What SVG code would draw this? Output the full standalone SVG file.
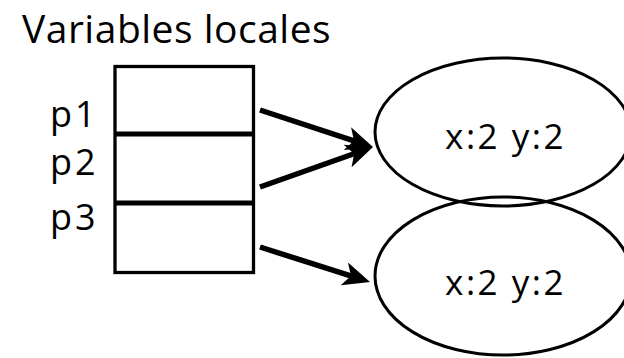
<svg xmlns="http://www.w3.org/2000/svg" width="624" height="358" viewBox="0 0 624 358">
  <style>
    text { font-family: "Open Sans", "Lato", "DejaVu Sans", sans-serif; fill: #000; }
    .title { font-size: 39px; letter-spacing: 0.5px; }
    .lbl { font-size: 36px; letter-spacing: 3px; }
    .val { font-size: 35px; letter-spacing: 2.5px; text-anchor: middle; }
    .frame { fill: #fff; stroke: #000; stroke-width: 3.3; }
    .divider { stroke: #000; stroke-width: 5; }
    .obj { fill: none; stroke: #000; stroke-width: 3; }
    .ref { stroke: #000; stroke-width: 5.5; fill: none; marker-end: url(#head); }
  </style>
  <defs>
    <marker id="head" markerUnits="userSpaceOnUse" viewBox="0 0 27 24" refX="15" refY="12" markerWidth="27" markerHeight="24" orient="auto">
      <path d="M0,0 L27,12 L0,24 L7,12 z" fill="#000"/>
    </marker>
  </defs>

  <text class="title" x="22" y="43">Variables locales</text>

  <!-- stack frame with three slots -->
  <g id="frame">
    <rect class="frame" x="115" y="66.5" width="138.5" height="206"/>
    <line class="divider" x1="115" y1="134" x2="253.5" y2="134"/>
    <line class="divider" x1="115" y1="203" x2="253.5" y2="203"/>
    <text class="lbl" x="50" y="127">p1</text>
    <text class="lbl" x="50" y="175">p2</text>
    <text class="lbl" x="50" y="230">p3</text>
  </g>

  <g id="point1">
    <ellipse class="obj" cx="503" cy="132" rx="128" ry="74"/>
    <text class="val" x="505.5" y="149">x:2 y:2</text>
  </g>

  <g id="point2">
    <ellipse class="obj" cx="503" cy="276" rx="128" ry="79"/>
    <text class="val" x="505.5" y="295">x:2 y:2</text>
  </g>

  <!-- references: line ends 12px short of the tip, the marker supplies the rest -->
  <g id="connectors">
    <line class="ref" x1="260" y1="110" x2="361.6" y2="143.3"/>
    <line class="ref" x1="260" y1="187" x2="361.7" y2="151"/>
    <line class="ref" x1="260" y1="247" x2="358.6" y2="278.4"/>
  </g>
</svg>
